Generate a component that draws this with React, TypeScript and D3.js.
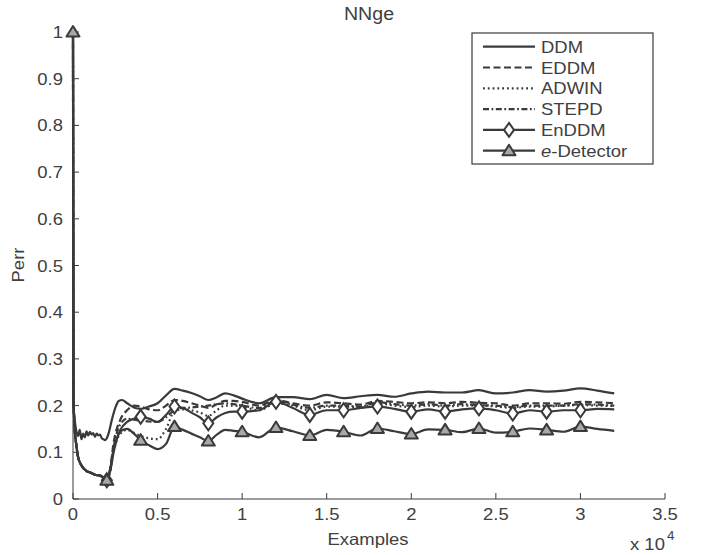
import React from "react";
import * as d3 from "d3";

// ---------- data ----------
const seriesNames = ["DDM", "EDDM", "ADWIN", "STEPD", "EnDDM", "e-Detector"];

const xTicks = [0, 5000, 10000, 15000, 20000, 25000, 30000, 35000];
const xTickLabels = ["0", "0.5", "1", "1.5", "2", "2.5", "3", "3.5"];
const yTicks = [0, 0.1, 0.2, 0.3, 0.4, 0.5, 0.6, 0.7, 0.8, 0.9, 1];
const yTickLabels = ["0", "0.1", "0.2", "0.3", "0.4", "0.5", "0.6", "0.7", "0.8", "0.9", "1"];

// DDM has its own (denser) sampling at the start
const ddmX = [0, 30, 100, 200, 300, 400, 500, 600, 700, 800, 900, 1000, 1100, 1200, 1300, 1400, 1500, 1600, 1700, 1800, 1900, 2000, 2100, 2300, 2500, 2700, 2900, 3200, 3600, 4000, 4500, 5000, 5500, 6000, 6500, 7000, 7500, 8000, 8500, 9000, 9500, 10000, 11000, 12000, 13000, 14000, 15000, 16000, 17000, 18000, 19000, 20000, 21000, 22000, 23000, 24000, 25000, 26000, 27000, 28000, 29000, 30000, 31000, 32000];
const ddmY = [1, 0.2, 0.17, 0.145, 0.135, 0.148, 0.128, 0.14, 0.132, 0.145, 0.136, 0.144, 0.138, 0.141, 0.133, 0.14, 0.136, 0.138, 0.13, 0.128, 0.126, 0.13, 0.14, 0.17, 0.195, 0.21, 0.212, 0.205, 0.196, 0.193, 0.198, 0.205, 0.222, 0.236, 0.232, 0.227, 0.22, 0.212, 0.218, 0.226, 0.222, 0.215, 0.205, 0.218, 0.218, 0.214, 0.223, 0.216, 0.22, 0.223, 0.219, 0.226, 0.23, 0.228, 0.228, 0.233, 0.226, 0.228, 0.233, 0.23, 0.232, 0.237, 0.232, 0.226];

// common sampling for the other detectors
const gridX = [0, 30, 100, 200, 300, 500, 800, 1000, 1300, 1600, 1800, 2000, 2200, 2400, 2800, 3200, 3600, 4000, 4500, 5000, 5500, 6000, 6500, 7000, 7500, 8000, 8500, 9000, 9500, 10000, 11000, 12000, 13000, 14000, 15000, 16000, 17000, 18000, 19000, 20000, 21000, 22000, 23000, 24000, 25000, 26000, 27000, 28000, 29000, 30000, 31000, 32000];
const startY = [1, 0.22, 0.15, 0.115, 0.09, 0.072, 0.06, 0.057, 0.052, 0.05, 0.046, 0.04];

const eddmY = [...startY, 0.065, 0.12, 0.17, 0.19, 0.2, 0.198, 0.192, 0.19, 0.2, 0.212, 0.21, 0.205, 0.2, 0.195, 0.203, 0.21, 0.21, 0.208, 0.2, 0.212, 0.205, 0.2, 0.207, 0.205, 0.202, 0.21, 0.208, 0.205, 0.207, 0.205, 0.208, 0.206, 0.205, 0.2, 0.205, 0.205, 0.204, 0.208, 0.207, 0.205];
const adwinY = [...startY, 0.06, 0.1, 0.14, 0.148, 0.142, 0.135, 0.13, 0.128, 0.15, 0.188, 0.192, 0.19, 0.185, 0.178, 0.19, 0.2, 0.2, 0.198, 0.19, 0.205, 0.2, 0.19, 0.198, 0.198, 0.196, 0.205, 0.2, 0.197, 0.2, 0.198, 0.2, 0.2, 0.198, 0.195, 0.198, 0.198, 0.2, 0.201, 0.2, 0.199];
const stepdY = [...startY, 0.062, 0.11, 0.16, 0.172, 0.17, 0.168, 0.166, 0.165, 0.175, 0.19, 0.195, 0.196, 0.198, 0.2, 0.203, 0.205, 0.203, 0.2, 0.195, 0.21, 0.202, 0.195, 0.2, 0.2, 0.198, 0.207, 0.203, 0.2, 0.203, 0.2, 0.203, 0.201, 0.2, 0.197, 0.2, 0.2, 0.2, 0.203, 0.202, 0.2];
const enddmY = [...startY, 0.065, 0.105, 0.148, 0.165, 0.172, 0.176, 0.172, 0.165, 0.18, 0.198, 0.195, 0.185, 0.175, 0.162, 0.175, 0.184, 0.187, 0.187, 0.19, 0.208, 0.195, 0.18, 0.19, 0.19, 0.195, 0.198, 0.193, 0.187, 0.192, 0.187, 0.192, 0.194, 0.19, 0.183, 0.19, 0.187, 0.19, 0.19, 0.193, 0.192];
const edetY = [...startY, 0.06, 0.1, 0.145, 0.15, 0.14, 0.126, 0.115, 0.107, 0.118, 0.155, 0.148, 0.14, 0.132, 0.124, 0.138, 0.148, 0.146, 0.144, 0.132, 0.153, 0.145, 0.136, 0.148, 0.144, 0.136, 0.151, 0.145, 0.139, 0.149, 0.148, 0.143, 0.151, 0.142, 0.144, 0.151, 0.148, 0.144, 0.155, 0.15, 0.146];

const enddmMarkerX = [2000, 4000, 6000, 8000, 10000, 12000, 14000, 16000, 18000, 20000, 22000, 24000, 26000, 28000, 30000];
const edetMarkerX = [0, 2000, 4000, 6000, 8000, 10000, 12000, 14000, 16000, 18000, 20000, 22000, 24000, 26000, 28000, 30000];

// ---------- styles ----------
const INK = "#3a3a3a";
const TXT = "#404040";
const FONT = "'Liberation Sans', Arial, Helvetica, sans-serif";
const FS = 16.5;
const HS = 1.12; // horizontal stretch of the reference lettering

type S = { name: string; xs: number[]; ys: number[]; dash?: string; marker?: "diamond" | "triangle"; mx?: number[] };

const series: S[] = [
  { name: seriesNames[0], xs: ddmX, ys: ddmY },
  { name: seriesNames[1], xs: gridX, ys: eddmY, dash: "7,3.5" },
  { name: seriesNames[2], xs: gridX, ys: adwinY, dash: "1.8,3" },
  { name: seriesNames[3], xs: gridX, ys: stepdY, dash: "6,2.5,1.8,2.5" },
  { name: seriesNames[4], xs: gridX, ys: enddmY, marker: "diamond", mx: enddmMarkerX },
  { name: seriesNames[5], xs: gridX, ys: edetY, marker: "triangle", mx: edetMarkerX },
];

function T({ x, y, anchor = "start", size = FS, rotate = 0, children }: { x: number; y: number; anchor?: string; size?: number; rotate?: number; children: React.ReactNode }) {
  return (
    <text
      transform={`translate(${x},${y}) rotate(${rotate}) scale(${HS},1)`}
      textAnchor={anchor}
      fontSize={size}
      fill={TXT}
    >
      {children}
    </text>
  );
}

function Marker({ kind, cx, cy }: { kind: "diamond" | "triangle"; cx: number; cy: number }) {
  if (kind === "diamond") {
    const p = `${cx},${cy - 7} ${cx + 5},${cy} ${cx},${cy + 7} ${cx - 5},${cy}`;
    return <polygon points={p} fill="#fff" stroke={INK} strokeWidth={2} />;
  }
  const p = `${cx},${cy - 6} ${cx + 6.5},${cy + 4.5} ${cx - 6.5},${cy + 4.5}`;
  return <polygon points={p} fill="#a8a8a8" stroke={INK} strokeWidth={2} strokeLinejoin="round" />;
}

export default function App() {
  const W = 701, H = 555;
  const x = d3.scaleLinear().domain([0, 35000]).range([73, 665]);
  const y = d3.scaleLinear().domain([0, 1]).range([499, 32]);
  const line = d3.line<[number, number]>().x(d => x(d[0])).y(d => y(d[1])).curve(d3.curveMonotoneX);

  const legendX = 472, legendY = 33, legendW = 181, legendH = 131;
  const rowY = (i: number) => 46.7 + i * 20.8;

  return (
    <svg width={W} height={H} style={{ position: "absolute", left: 0, top: 0, background: "#fff" }} fontFamily={FONT}>
      <rect x={0} y={0} width={W} height={H} fill="#fff" />
      {/* axes */}
      <line x1={x(0)} x2={x(35000)} y1={y(0)} y2={y(0)} stroke={INK} strokeWidth={1} />
      <line x1={x(0)} x2={x(0)} y1={y(0)} y2={y(1)} stroke={INK} strokeWidth={1} />
      {xTicks.map((t, i) => (
        <g key={"xt" + i}>
          <line x1={x(t)} x2={x(t)} y1={y(0)} y2={y(0) - 6} stroke={INK} strokeWidth={1} />
          <T x={x(t)} y={520} anchor="middle">{xTickLabels[i]}</T>
        </g>
      ))}
      {yTicks.map((t, i) => (
        <g key={"yt" + i}>
          <line x1={x(0)} x2={x(0) + 6} y1={y(t)} y2={y(t)} stroke={INK} strokeWidth={1} />
          <T x={63} y={y(t) + 6} anchor="end">{yTickLabels[i]}</T>
        </g>
      ))}
      <T x={369} y={19.5} anchor="middle" size={17.5}>NNge</T>
      <T x={368} y={545} anchor="middle">Examples</T>
      <T x={24} y={265} anchor="middle" rotate={-90}>Perr</T>
      <T x={630} y={550}>x 10</T>
      <T x={667} y={540} size={12}>4</T>

      {/* series */}
      {series.map((s) => {
        const pts: [number, number][] = s.xs.map((v, i) => [v, s.ys[i]]);
        return (
          <g key={s.name}>
            <path d={line(pts) || ""} fill="none" stroke={INK} strokeWidth={2.2} strokeDasharray={s.dash} strokeLinejoin="round" />
            {s.marker && s.mx && s.mx.map((mv, k) => {
              const idx = s.xs.indexOf(mv);
              return <Marker key={k} kind={s.marker!} cx={x(mv)} cy={y(s.ys[idx])} />;
            })}
          </g>
        );
      })}

      {/* legend */}
      <rect x={legendX} y={legendY} width={legendW} height={legendH} fill="#fff" stroke={INK} strokeWidth={1.2} />
      {series.map((s, i) => (
        <g key={"lg" + i}>
          <line x1={483} x2={535} y1={rowY(i)} y2={rowY(i)} stroke={INK} strokeWidth={2.2} strokeDasharray={s.dash} />
          {s.marker && <Marker kind={s.marker} cx={509} cy={rowY(i)} />}
          {s.name === "e-Detector" ? (
            <T x={541} y={rowY(i) + 6}>
              <tspan fontStyle="italic">e</tspan>-Detector
            </T>
          ) : (
            <T x={541} y={rowY(i) + 6}>{s.name}</T>
          )}
        </g>
      ))}
    </svg>
  );
}
